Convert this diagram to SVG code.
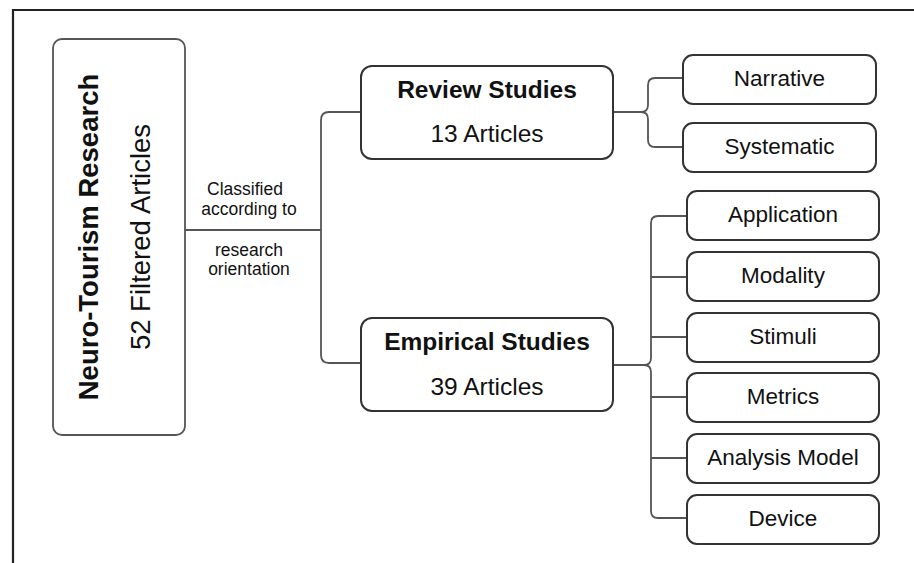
<svg xmlns="http://www.w3.org/2000/svg" width="914" height="563" viewBox="0 0 914 563">
<style>
.box{fill:#fff;stroke:#333;stroke-width:2}
.mbox{fill:#fff;stroke:#555;stroke-width:1.8}
.con{fill:none;stroke:#555;stroke-width:1.8}
.frame{fill:none;stroke:#222;stroke-width:2.2}
text{font-family:"Liberation Sans",Arial,sans-serif;fill:#111;text-anchor:middle}
.b{font-weight:bold}
.lab{font-size:17.5px}
.leaf{font-size:22.5px}
.mid{font-size:24.5px}
.big{font-size:27.5px}
</style>
<rect width="914" height="563" fill="#fff"/>
<path class="frame" d="M13 563 V10 H914"/>
<g id="connectors">
<path class="con" d="M185 230 H321"/>
<path class="con" d="M361 112 H329 Q321 112 321 120 V355 Q321 363 329 363 H361"/>
<path class="con" d="M613 112 H641 Q648 112 648 105 V85 Q648 78 655 78 H683"/>
<path class="con" d="M641 112 Q648 112 648 119 V140 Q648 147 655 147 H683"/>
<path class="con" d="M613 365 H644 Q651 365 651 358 V223 Q651 216 658 216 H687"/>
<path class="con" d="M644 365 Q651 365 651 372 V511 Q651 518 658 518 H687"/>
<path class="con" d="M651 277 H687 M651 337 H687 M651 397 H687 M651 458 H687"/>
</g>
<g id="root">
<rect class="mbox" x="53" y="39" width="132" height="396" rx="9"/>
<text class="big b" transform="translate(98 237) rotate(-90)">Neuro-Tourism Research</text>
<text class="big" transform="translate(150 237) rotate(-90)">52 Filtered Articles</text>
</g>
<g id="label">
<text class="lab" x="245" y="195">Classified</text>
<text class="lab" x="249" y="215">according to</text>
<text class="lab" x="249" y="256">research</text>
<text class="lab" x="249" y="275">orientation</text>
</g>
<g id="review">
<rect class="box" x="361" y="66" width="252" height="93" rx="11"/>
<text class="mid b" x="487" y="98">Review Studies</text>
<text class="mid" x="487" y="142">13 Articles</text>
</g>
<g id="empirical">
<rect class="box" x="361" y="318" width="252" height="93" rx="11"/>
<text class="mid b" x="487" y="350">Empirical Studies</text>
<text class="mid" x="487" y="395">39 Articles</text>
</g>
<g id="narrative">
<rect class="box" x="683" y="55" width="193" height="49" rx="10"/>
<text class="leaf" x="779.5" y="86">Narrative</text>
</g>
<g id="systematic">
<rect class="box" x="683" y="123" width="193" height="49" rx="10"/>
<text class="leaf" x="779.5" y="154">Systematic</text>
</g>
<g id="application">
<rect class="box" x="687" y="191" width="192" height="49" rx="10"/>
<text class="leaf" x="783" y="222">Application</text>
</g>
<g id="modality">
<rect class="box" x="687" y="252" width="192" height="49" rx="10"/>
<text class="leaf" x="783" y="283">Modality</text>
</g>
<g id="stimuli">
<rect class="box" x="687" y="313" width="192" height="49" rx="10"/>
<text class="leaf" x="783" y="344">Stimuli</text>
</g>
<g id="metrics">
<rect class="box" x="687" y="373" width="192" height="49" rx="10"/>
<text class="leaf" x="783" y="404">Metrics</text>
</g>
<g id="analysis">
<rect class="box" x="687" y="434" width="192" height="49" rx="10"/>
<text class="leaf" x="783" y="465">Analysis Model</text>
</g>
<g id="device">
<rect class="box" x="687" y="495" width="192" height="49" rx="10"/>
<text class="leaf" x="783" y="526">Device</text>
</g>
</svg>
